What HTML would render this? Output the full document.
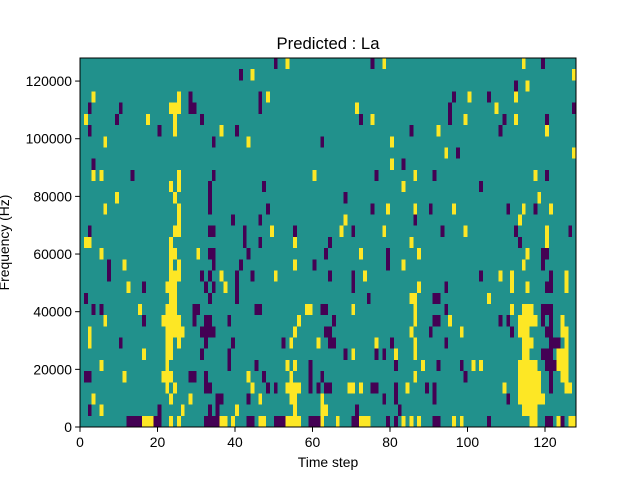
<!DOCTYPE html>
<html><head><meta charset="utf-8"><style>
html,body{margin:0;padding:0;background:#fff;}
svg{display:block;font-family:"Liberation Sans","DejaVu Sans",sans-serif;}
</style></head><body>
<svg id="chart" width="640" height="480" viewBox="0 0 640 480" xmlns="http://www.w3.org/2000/svg">
<rect width="640" height="480" fill="#fff"/>
<text x="328" y="49" font-size="16.7" text-anchor="middle">Predicted : La</text>
<g id="cells"></g>
<rect x="80" y="58" width="496" height="369" fill="none" stroke="#000" stroke-width="1"/>
<g id="axes"></g>
<text x="328" y="467" font-size="13.9" text-anchor="middle">Time step</text>
<text transform="translate(9,242.5) rotate(-90)" font-size="13.9" text-anchor="middle">Frequency (Hz)</text>
</svg>
<script>
// rows listed top (highest frequency bin) to bottom; yN = +1 cell, xN = -1 cell
const rowCells = [
"x50 y53 x75 y78 y114 x119",
"x41 y44 y127",
"x112 y115",
"y3 y25 x28 x46 y48 x96 y100 x105 y112",
"x2 x10 y23-25 x28-29 x46 y71 x95 y107 x127",
"y1 x9 y17 y24 x31 x72 y75 x95 y99 x109 y112 x120",
"x2 x20 y24 y36 x40 x85 y92 x108 y120",
"y6 x34 y43 x62 y80",
"y94 x97 y127",
"x3 y80 x83",
"y3 y5 x13 y25 x34 y60 x76 y86 x91 y117 x120",
"y23 y25 x33 x47 y83 x103",
"y9 y24 x33 x68 y118",
"y6 y25 x33 x48 x75 y79 y86 x90 y96 x110 y114 x117 y121",
"y25 x39 x46 y68 x86 y113",
"x2 y24-25 x33-34 x42 y49 x55 y67 x70 y78 x93 y99 x112 y120 x126",
"y1-2 y23 x42 x46 y55 x64 y85 x113 y120",
"y5 y23-24 y30 x33-34 x43 x63 y72 x79 y87 y115 x119-120",
"x7 y11 y23 y25 x34 x41 y55 x60 x79 y83 y114 x119",
"x7 y23-25 x31 x33 y36 x40 x44 y50 x64 x70 y73 x103 y108 y111 x121 y125",
"y12 x16 y22-24 x32 x34 y37 x40 x70 y87 x94 y111 y115 x120-121 y125",
"x1 y23-24 x33 x40 x74 y85-86 x91-92 y105",
"x3 x5 y15 y22-24 x29-30 x45-46 y58-59 x62-63 y70 y86 x94 y111 y114-116 x119-121",
"y6 x16 y21-25 x29 x32-33 x38 y56 x65 y86 x91-92 y95 x108 x110 y113-117 x119 x121 y124",
"y2 y22-26 x31 x32-34 y55 x63 x64 y85 x90 y98 x111 y113-115 x120-121 y124-125",
"y2 x10 y22-23 y25 x32 x39 x52 y54 y61 x64-65 y76 x80 y86 x94 y114-116 x121-123 y125",
"y16 y22-23 x31 x38 x68 y70 x76 x78 y81 y86 y114-115 x119-121 y123-125",
"y5 y22 x38 x45 y53 y55 x59 x81 y88 x92 x98 y101 y103 y113-117 x120-122 y123-125",
"x1-2 y11 y21-23 x28-29 x32 y43 x47 y54 x59 x62 y86 x99 y113-118 x121 y124-125",
"y22 y24 x32-33 y44 x48 x50 y53-56 x59 x61 x63 x64 y69-70 y72 x75-76 x81 y84 x89 x91 y109 y113-118 x121 y125-126",
"y3 y23 y28 x35-36 x43 y46 y54-55 y62 x78 x81 x91 x110 y113-119",
"x2 y5 x20 y26 x33 x35 y40 y55 y62-63 x71 x82 y114-117",
"x12-15 y16-18 x19-20 y23 y25 x32-35 y36-37 y39 x43-44 y46-47 x50-52 y53-56 x59-61 y62 y66 x70-71 y72-74 x79 x81 y83 y85 y87 x91-92 y96 y98 x105 y116-117 x120-121 y123 x124 y126-127"
];
const xTicks = [0,20,40,60,80,100,120];
const yTicks = [0,20000,40000,60000,80000,100000,120000];
const nCols = 128, yMax = 128000;

const L=80,R=576,T=58,B=427;
const nRows = rowCells.length;
const binH = yMax/nRows;
const xs = v => L + v/nCols*(R-L);
const ys = v => B - v/yMax*(B-T);
const colors = {"-1":"#440154","0":"#21918c","1":"#fde725"};
const NS="http://www.w3.org/2000/svg";
const cells=document.getElementById('cells');
const bg=document.createElementNS(NS,'rect');
bg.setAttribute('x',L);bg.setAttribute('y',T);bg.setAttribute('width',R-L);bg.setAttribute('height',B-T);
bg.setAttribute('fill',colors["0"]);


cells.appendChild(bg);
rowCells.forEach((s,ti)=>{
  const bin = nRows-1-ti;
  s.split(' ').filter(Boolean).forEach(tok=>{
    const val = tok[0]==='y'?1:-1;
    const parts = tok.slice(1).split('-').map(Number);
    const c0=parts[0], c1=parts.length>1?parts[1]:parts[0];
    const r=document.createElementNS(NS,'rect');
    const x0=xs(c0), x1=xs(c1+1), y0=ys((bin+1)*binH), y1=ys(bin*binH);
    r.setAttribute('x',x0);r.setAttribute('y',y0);
    r.setAttribute('width',x1-x0);r.setAttribute('height',y1-y0);
    r.setAttribute('fill',colors[String(val)]);
    r.setAttribute('shape-rendering','crispEdges');
    
    
    cells.appendChild(r);
  });
});
const axes=document.getElementById('axes');
xTicks.forEach(v=>{
  const x=xs(v);
  const l=document.createElementNS(NS,'line');
  l.setAttribute('x1',x);l.setAttribute('x2',x);l.setAttribute('y1',B);l.setAttribute('y2',B+4.9);l.setAttribute('stroke','#000');
  
  
  axes.appendChild(l);
  const t=document.createElementNS(NS,'text');
  t.setAttribute('x',x);t.setAttribute('y',B+20);t.setAttribute('font-size','13.9');t.setAttribute('text-anchor','middle');
  t.textContent=v;
  
  
  axes.appendChild(t);
});
yTicks.forEach(v=>{
  const y=ys(v);
  const l=document.createElementNS(NS,'line');
  l.setAttribute('x1',L-4.9);l.setAttribute('x2',L);l.setAttribute('y1',y);l.setAttribute('y2',y);l.setAttribute('stroke','#000');
  
  
  axes.appendChild(l);
  const t=document.createElementNS(NS,'text');
  t.setAttribute('x',L-8);t.setAttribute('y',y+5);t.setAttribute('font-size','13.9');t.setAttribute('text-anchor','end');
  t.textContent=v;
  
  
  axes.appendChild(t);
});
</script>
</body></html>
